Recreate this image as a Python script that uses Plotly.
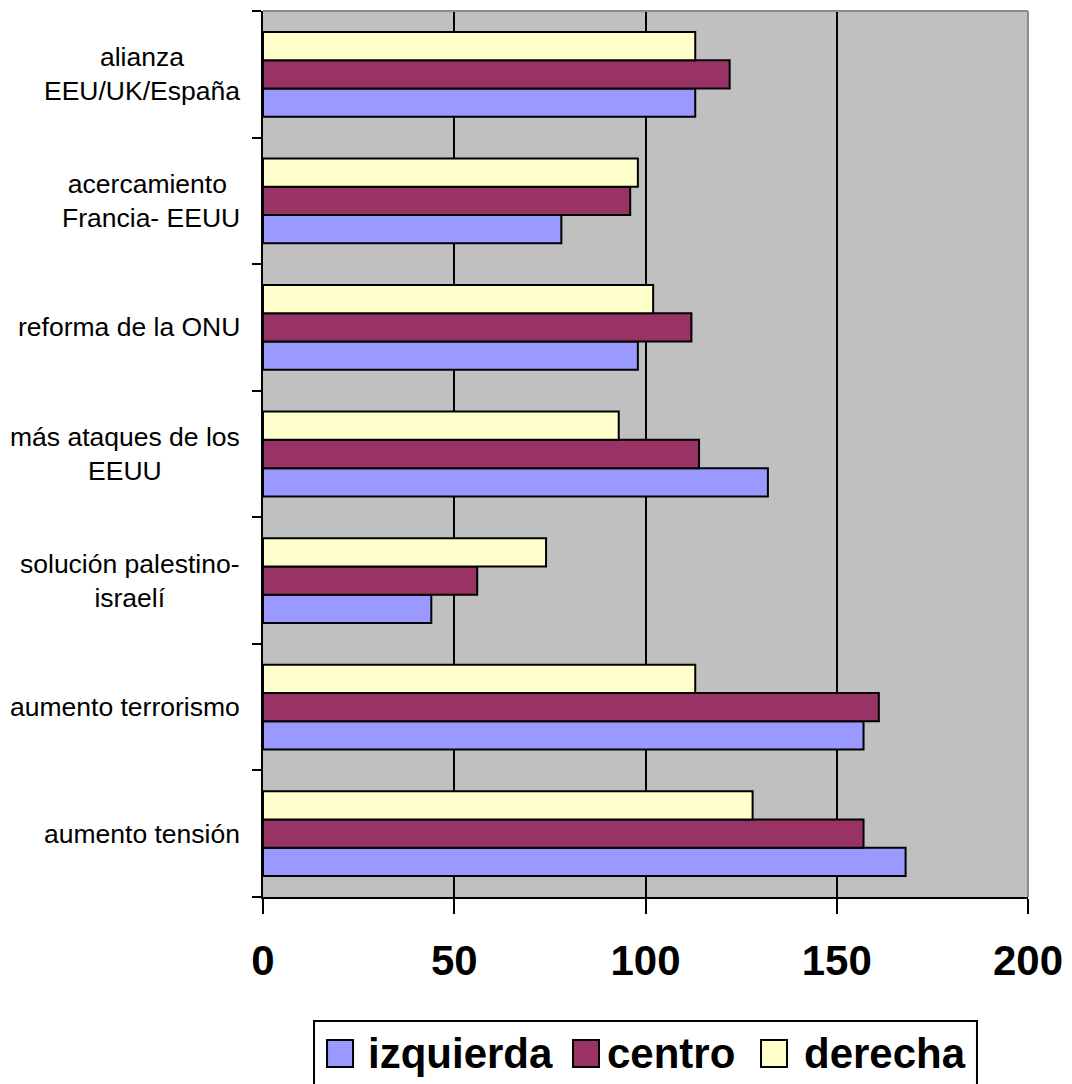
import plotly.graph_objects as go

# ---- data (bottom to top, as in the reference) ----
categories = [
    "aumento tensión",
    "aumento terrorismo",
    "solución palestino-<br>israelí",
    "más ataques de los<br>EEUU",
    "reforma de la ONU",
    "acercamiento <br>Francia- EEUU",
    "alianza<br>EEU/UK/España",
]
series_names = ["izquierda", "centro", "derecha"]
izquierda = [168, 157, 44, 132, 98, 78, 113]
centro = [157, 161, 56, 114, 112, 96, 122]
derecha = [128, 113, 74, 93, 102, 98, 113]
x_ticks = [0, 50, 100, 150, 200]

# ---- styles ----
colors = ["#9999FF", "#993366", "#FFFFCC"]
FONT = "Liberation Sans, Arial, sans-serif"

fig = go.Figure()
for name, vals, col in zip(series_names, [izquierda, centro, derecha], colors):
    fig.add_trace(go.Bar(
        y=categories, x=vals, name=name, orientation="h",
        marker=dict(color=col, line=dict(color="black", width=2)),
        showlegend=False,
    ))

fig.update_layout(
    width=1072, height=1084,
    margin=dict(l=255, r=52, t=3, b=195, autoexpand=False),
    paper_bgcolor="white",
    plot_bgcolor="#C0C0C0",
    barmode="group",
    bargap=0.33,
    bargroupgap=0,
    font=dict(family=FONT, color="black"),
)

fig.update_xaxes(
    range=[0, 200], tickvals=x_ticks, ticktext=[str(v) for v in x_ticks],
    showgrid=True, gridcolor="black", gridwidth=2,
    zeroline=False,
    showline=True, linecolor="black", linewidth=2,
    ticks="outside", ticklen=15, tickwidth=2, tickcolor="black",
    tickfont=dict(family=FONT, size=42, color="black", weight="bold"),
    ticklabelstandoff=11,
)
fig.update_yaxes(
    type="category", range=[-0.5, len(categories) - 0.5],
    showgrid=False, zeroline=False,
    showline=True, linecolor="black", linewidth=2,
    ticks="outside", tickson="boundaries", ticklen=9, tickwidth=2, tickcolor="black",
    showticklabels=False,
)

# gray top/right plot border
fig.add_shape(type="line", xref="paper", yref="paper", x0=0, x1=1, y0=1, y1=1,
              line=dict(color="#8C8C8C", width=2), layer="above")
fig.add_shape(type="line", xref="paper", yref="paper", x0=1, x1=1, y0=0, y1=1,
              line=dict(color="#8C8C8C", width=2), layer="above")

# category labels, centred multi-line text right of the axis
for c in categories:
    fig.add_annotation(
        x=-0.0275, xref="paper", y=c, yref="y",
        text=c, showarrow=False, xanchor="right", yanchor="middle",
        align="center", font=dict(family=FONT, size=26.5, color="black"),
    )

# legend drawn by hand (large swatches like the reference)
fig.add_shape(type="rect", xref="paper", yref="paper",
              x0=0.0667, x1=0.9333, y0=-0.140, y1=-0.26,
              line=dict(color="black", width=2), fillcolor="white")
sw_x = [0.0837, 0.4052, 0.6510]
sw_w = 0.034
txt_x = [0.1346, 0.4471, 0.7046]
for name, col, sx, tx in zip(series_names, colors, sw_x, txt_x):
    fig.add_shape(type="rect", xref="paper", yref="paper",
                  x0=sx, x1=sx + sw_w, y0=-0.1614, y1=-0.1919,
                  line=dict(color="black", width=2), fillcolor=col)
    fig.add_annotation(
        x=tx, xref="paper", y=-0.1766, yref="paper",
        text=name, showarrow=False, xanchor="left", yanchor="middle",
        font=dict(family=FONT, size=42, color="black", weight="bold"),
    )

fig.write_html("out.html")
